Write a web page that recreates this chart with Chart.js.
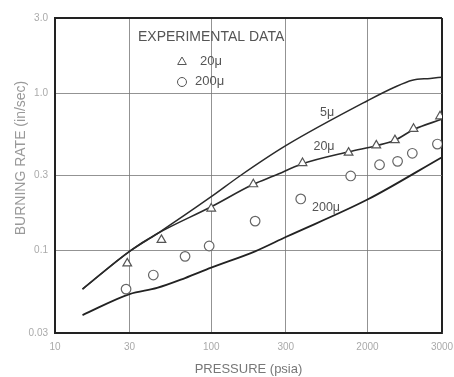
<!DOCTYPE html>
<html>
<head>
<meta charset="utf-8">
<title>Burning rate vs pressure</title>
<script src="https://cdn.jsdelivr.net/npm/chart.js@4/dist/chart.umd.min.js"></script>
<style>
    html, body { margin: 0; padding: 0; background: #fff; }
</style>
</head>
<body>
<canvas id="chart" width="454" height="377"></canvas>
<script>
// axis ticks
const xTicks = [10, 30, 100, 300, 1000, 3000];
const xTickLabels = ['10', '30', '100', '300', '2000', '3000'];
const yTicks = [0.03, 0.1, 0.3, 1, 3];
const yTickLabels = ['0.03', '0.1', '0.3', '1.0', '3.0'];

// experimental data, pressure (psia) and burning rate (in/sec)
const tri20P = [29, 48, 100, 186, 384, 757, 1139, 1499, 1972, 2915];
const tri20R = [0.083, 0.117, 0.185, 0.264, 0.36, 0.419, 0.466, 0.503, 0.594, 0.713];
const circ200P = [28.5, 42.6, 68, 97, 191, 374, 781, 1195, 1559, 1937, 2804];
const circ200R = [0.057, 0.070, 0.092, 0.107, 0.154, 0.213, 0.298, 0.351, 0.369, 0.415, 0.475];

// calculated curves
const c5P = [15, 30, 45, 100, 154, 300, 1000, 1477, 1937, 2522, 3000];
const c5R = [0.057, 0.099, 0.128, 0.22, 0.3, 0.464, 0.895, 1.086, 1.208, 1.24, 1.264];
const c20P = [15, 30, 45, 100, 186, 255, 380, 764, 1139, 1484, 1981, 3000];
const c20R = [0.057, 0.099, 0.128, 0.19, 0.264, 0.3, 0.355, 0.425, 0.464, 0.5, 0.588, 0.684];
const c200P = [15, 30, 45, 68, 100, 191, 300, 1000, 3000];
const c200R = [0.039, 0.053, 0.058, 0.067, 0.078, 0.099, 0.122, 0.211, 0.392];

const curveNames = ['5\u03bc', '20\u03bc', '200\u03bc'];
const legendTitle = 'EXPERIMENTAL DATA';
const legendNames = ['20\u03bc', '200\u03bc'];
const yTitle = 'BURNING RATE (in/sec)';
const xTitle = 'PRESSURE (psia)';

function pts(xs, ys) {
    return xs.map((v, i) => ({ x: v, y: ys[i] }));
}

document.addEventListener("DOMContentLoaded", function () {

    const font = '"Liberation Sans", Arial, sans-serif';

    // curve labels, legend inside the plot, y axis title
    const notes = {
        id: 'notes',
        afterDatasetsDraw(chart) {
            const c = chart.ctx;
            const area = chart.chartArea;
            const xs = chart.scales.x;
            const ys = chart.scales.y;
            c.save();
            c.font = '12.5px ' + font;
            c.fillStyle = '#555';
            c.textBaseline = 'middle';
            c.textAlign = 'center';
            const at = [[551, 0.748], [527, 0.455], [543, 0.189]];
            curveNames.forEach((t, i) => {
                c.fillText(t, xs.getPixelForValue(at[i][0]), ys.getPixelForValue(at[i][1]));
            });

            // legend
            const lx = area.left + 83;
            const ly = area.top + 19;
            c.textAlign = 'left';
            c.font = '14px ' + font;
            c.fillText(legendTitle, lx, ly);

            c.font = '13px ' + font;
            c.strokeStyle = '#555';
            c.fillStyle = '#fff';
            Chart.helpers.drawPoint(c, { pointStyle: 'triangle', radius: 5, borderWidth: 1.2 }, lx + 44, ly + 25);
            Chart.helpers.drawPoint(c, { pointStyle: 'circle', radius: 4.5, borderWidth: 1.2 }, lx + 44, ly + 45);
            c.fillStyle = '#555';
            c.fillText(legendNames[0], lx + 62, ly + 24);
            c.fillText(legendNames[1], lx + 57, ly + 44);

            // y title
            c.translate(area.left - 34, area.top + 140);
            c.rotate(-Math.PI / 2);
            c.textAlign = 'center';
            c.font = '14px ' + font;
            c.fillStyle = '#999';
            c.fillText(yTitle, 0, 0);
            c.restore();
        }
    };

    const ctx = document.getElementById('chart').getContext('2d');

    new Chart(ctx, {
        type: 'line',

        data: {
            datasets: [
                {
                    label: '20\u03bc data',
                    data: pts(tri20P, tri20R),
                    showLine: false,
                    pointStyle: 'triangle',
                    pointRadius: 5,
                    pointBorderWidth: 1.2,
                    borderColor: '#555',
                    backgroundColor: '#fff'
                },
                {
                    label: '200\u03bc data',
                    data: pts(circ200P, circ200R),
                    showLine: false,
                    pointStyle: 'circle',
                    pointRadius: 4.8,
                    pointBorderWidth: 1.2,
                    borderColor: '#666',
                    backgroundColor: '#fff'
                },
                {
                    label: curveNames[0],
                    data: pts(c5P, c5R),
                    borderColor: '#2a2a2a',
                    borderWidth: 1.5,
                    pointRadius: 0,
                    cubicInterpolationMode: 'monotone'
                },
                {
                    label: curveNames[1],
                    data: pts(c20P, c20R),
                    borderColor: '#2a2a2a',
                    borderWidth: 1.6,
                    pointRadius: 0,
                    cubicInterpolationMode: 'monotone'
                },
                {
                    label: curveNames[2],
                    data: pts(c200P, c200R),
                    borderColor: '#222',
                    borderWidth: 1.8,
                    pointRadius: 0,
                    cubicInterpolationMode: 'monotone'
                }
            ]
        },

        options: {
            responsive: false,
            animation: false,
            layout: { padding: { top: 18, right: 12, left: 0, bottom: 0 } },

            plugins: {
                legend: { display: false },
                tooltip: { enabled: false }
            },

            scales: {
                x: {
                    type: 'logarithmic',
                    min: 10,
                    max: 3000,
                    afterBuildTicks: s => { s.ticks = xTicks.map(v => ({ value: v })); },
                    afterFit: s => { s.height = 44; s.paddingLeft = 0; s.paddingRight = 0; },
                    ticks: {
                        autoSkip: false,
                        maxRotation: 0,
                        padding: 8,
                        color: '#aaa',
                        font: { size: 10, family: 'Liberation Sans' },
                        callback: v => xTickLabels[xTicks.indexOf(v)]
                    },
                    grid: {
                        drawTicks: false,
                        color: c => (c.tick && c.tick.value === 3000) ? '#222' : '#777',
                        lineWidth: c => (c.tick && c.tick.value === 3000) ? 2 : 0.8
                    },
                    border: { color: '#222', width: 2 },
                    title: {
                        display: true,
                        text: xTitle,
                        color: '#777',
                        font: { size: 13, family: 'Liberation Sans' },
                        padding: { top: 6, bottom: 0 }
                    }
                },
                y: {
                    type: 'logarithmic',
                    min: 0.03,
                    max: 3,
                    afterBuildTicks: s => { s.ticks = yTicks.map(v => ({ value: v })); },
                    afterFit: s => { s.width = 55; },
                    ticks: {
                        autoSkip: false,
                        padding: 7,
                        color: '#aaa',
                        font: { size: 10, family: 'Liberation Sans' },
                        callback: v => yTickLabels[yTicks.indexOf(v)]
                    },
                    grid: {
                        drawTicks: false,
                        color: c => (c.tick && c.tick.value === 3) ? '#222' : '#777',
                        lineWidth: c => (c.tick && c.tick.value === 3) ? 2 : 0.8
                    },
                    border: { color: '#222', width: 2 }
                }
            }
        },

        plugins: [notes]

    });

});
</script>
</body>
</html>
